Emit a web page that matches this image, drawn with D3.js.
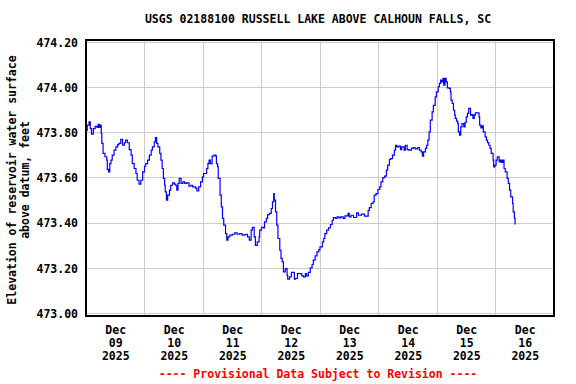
<!DOCTYPE html>
<html>
<head>
<meta charset="utf-8">
<script src="https://cdn.jsdelivr.net/npm/d3@7"></script>
<style>
  body { margin: 0; background: #fff; }
  text { font-family: "DejaVu Sans Mono", monospace; font-weight: bold; }
</style>
</head>
<body>
<svg id="chart" width="576" height="384"></svg>
<script>
var title = "USGS 02188100 RUSSELL LAKE ABOVE CALHOUN FALLS, SC";
var yTitle = ["Elevation of reservoir water surface", "above datum, feet"];
var footer = "---- Provisional Data Subject to Revision ----";

// hours after 2025-12-09 00:00
var hours = [0,0.5,1.25,1.75,2.25,3,3.75,4.5,5,5.5,6,6.25,6.5,7,7.75,8.5,8.75,9.25,9.75,10.25,
  10.75,11.5,12.25,13,13.5,14.25,15,15.75,16.25,17,17.75,18.5,19,19.75,20.5,21,21.75,22.5,23.25,24,
  24.5,25.25,26,26.75,27.25,28,28.5,29,29.5,30.25,30.75,31.25,31.75,32.25,32.5,33,33.5,34.25,34.75,35.5,
  36.25,36.75,37.25,37.75,38.25,39,39.75,40.5,41.25,42.25,43,43.75,45,45.5,46.25,47,47.75,48.25,48.75,49.5,
  50,50.5,51,51.75,52.5,53.25,53.5,54,54.25,55,55.5,56,56.5,57.25,57.75,58.25,59,60,61,62,
  63,64,65.25,66.25,67,67.75,68.25,69,69.5,70.25,71,71.25,72,72.75,73.25,74,74.5,75.25,76,76.5,
  77,77.25,77.75,78.25,78.75,79.5,80,80.5,81,81.75,82.5,82.75,83.5,84.25,85,85.5,86,86.75,87.5,88.5,
  89.25,90,90.5,91.25,92,92.75,93.25,94,94.75,95.5,96,97,97.5,98,98.75,99.5,100.25,101,101.5,102.25,
  103,103.75,104.5,105.5,106.25,107.5,108,108.75,109.75,111,111.75,113,114.25,115.25,115.75,116.25,117,117.75,118.25,119,
  119.75,120.5,121,121.75,122.5,123.25,123.75,124.5,125,125.75,126.5,127,127.5,128.25,129,129.5,130.5,131,131.75,132.5,
  133.5,134.25,135,136,136.75,137.5,138,138.5,139.25,139.75,140.25,140.75,141.25,142,142.5,143.25,143.75,144.5,145,145.5,
  146,146.5,146.75,147.25,147.75,148.25,149,149.5,149.75,150.25,150.75,151.25,151.5,152,152.5,152.75,153.25,153.75,154.25,155,
  155.5,156,156.5,157,157.75,158.25,158.75,159.25,159.75,160.5,161.25,161.5,162,162.5,163,163.75,164.25,164.75,165.25,165.75,
  166.25,167,167.25,167.75,168.25,168.75,169.5,170,170.5,171,171.5,172,172.75,173.25,173.75,174.25,175,175.25,175.75,176];

var elevation = [473.811,473.834,473.849,473.819,473.794,473.819,473.829,473.824,473.838,473.824,473.834,473.797,473.753,473.709,473.694,473.679,473.638,473.627,473.664,473.679,
  473.701,473.723,473.738,473.748,473.753,473.771,473.745,473.756,473.768,473.756,473.726,473.701,473.664,473.642,473.620,473.590,473.573,473.590,473.627,473.652,
  473.664,473.679,473.701,473.723,473.738,473.760,473.779,473.753,473.738,473.709,473.679,473.642,473.598,473.568,473.539,473.502,473.524,473.546,473.568,473.578,
  473.573,473.568,473.546,473.576,473.598,473.576,473.583,473.576,473.578,473.564,473.568,473.561,473.554,473.543,473.561,473.583,473.605,473.620,473.620,473.642,
  473.664,473.679,473.664,473.697,473.701,473.697,473.664,473.649,473.598,473.524,473.472,473.421,473.391,473.354,473.325,473.339,473.347,473.351,473.357,473.351,
  473.354,473.347,473.351,473.339,473.325,473.369,473.381,473.339,473.302,473.317,473.339,473.369,473.381,473.379,473.406,473.421,473.438,473.443,473.465,473.494,
  473.531,473.502,473.450,473.391,473.332,473.280,473.244,473.229,473.184,473.199,473.170,473.152,473.162,473.182,473.182,473.152,473.155,473.177,473.177,473.167,
  473.162,473.177,473.167,473.182,473.202,473.217,473.236,473.255,473.273,473.283,473.295,473.317,473.332,473.354,473.369,473.379,473.394,473.413,473.425,473.421,
  473.428,473.423,473.428,473.421,473.432,473.443,473.428,473.435,473.425,473.446,473.435,473.440,473.431,473.431,473.457,473.469,473.487,473.494,473.524,473.531,
  473.549,473.561,473.583,473.602,473.608,473.635,473.657,473.682,473.686,473.701,473.723,473.745,473.738,473.741,473.726,473.738,473.723,473.745,473.726,473.723,
  473.731,473.735,473.729,473.735,473.723,473.716,473.697,473.716,473.731,473.745,473.768,473.804,473.856,473.893,473.922,473.959,473.981,474.004,474.019,474.033,
  474.026,474.041,474.011,474.041,474.026,473.999,473.997,473.981,473.945,473.930,473.900,473.878,473.864,473.852,473.841,473.804,473.790,473.826,473.841,473.826,
  473.846,473.871,473.886,473.908,473.878,473.881,473.864,473.878,473.888,473.888,473.871,473.834,473.822,473.831,473.804,473.782,473.768,473.757,473.745,473.731,
  473.709,473.679,473.649,473.657,473.679,473.694,473.671,473.679,473.669,473.679,473.642,473.627,473.598,473.576,473.546,473.516,473.487,473.450,473.423,473.394];

var yTicks = [473.0, 473.2, 473.4, 473.6, 473.8, 474.0, 474.2];
var dayLabels = ["09", "10", "11", "12", "13", "14", "15", "16"];

var start = new Date(2025, 11, 9);
var end = new Date(2025, 11, 17);
var data = hours.map(function(h, i) {
  return { t: new Date(start.getTime() + h * 3600e3), v: elevation[i] };
});

var svg = d3.select("#chart");

var x = d3.scaleTime().domain([start, end]).range([86, 554]);
var y = d3.scaleLinear().domain([473.0, 474.2]).range([313.5, 42.5]);

// grid
var grid = svg.append("g").attr("stroke", "#cccccc").attr("stroke-width", 1)
  .attr("shape-rendering", "crispEdges");
grid.selectAll("line.h").data(yTicks).enter().append("line")
  .attr("x1", 86).attr("x2", 554)
  .attr("y1", function(d) { return Math.floor(y(d)) + 0.5; })
  .attr("y2", function(d) { return Math.floor(y(d)) + 0.5; });
grid.selectAll("line.v").data(d3.timeDay.range(new Date(2025, 11, 10), end)).enter().append("line")
  .attr("y1", 40).attr("y2", 316)
  .attr("x1", function(d) { return Math.floor(x(d)) + 0.5; })
  .attr("x2", function(d) { return Math.floor(x(d)) + 0.5; });

// data line
var line = d3.line().curve(d3.curveStepAfter)
  .x(function(d) { return x(d.t); })
  .y(function(d) { return y(d.v); });
svg.append("path").datum(data)
  .attr("fill", "none").attr("stroke", "#0000ff").attr("stroke-width", 1.2)
  .attr("d", line);

// frame
svg.append("rect").attr("x", 86).attr("y", 40).attr("width", 468).attr("height", 276)
  .attr("fill", "none").attr("stroke", "#000").attr("stroke-width", 2);

// y axis labels
var yAxis = d3.axisLeft(y).tickValues(yTicks).tickSize(0).tickPadding(0)
  .tickFormat(d3.format(".2f"));
var gy = svg.append("g").attr("transform", "translate(78,0)").call(yAxis);
gy.select(".domain").remove();
gy.selectAll("text").attr("font-size", "11.5px").attr("fill", "#000")
  .style("font-family", "'DejaVu Sans Mono', monospace").style("font-weight", "bold");

// x axis labels at noon of each day
var noons = dayLabels.map(function(d, i) { return new Date(2025, 11, 9 + i, 12); });
var xAxis = d3.axisBottom(x).tickValues(noons).tickSize(0).tickFormat("");
var gx = svg.append("g").attr("transform", "translate(0,316)").call(xAxis);
gx.select(".domain").remove();
gx.selectAll(".tick").each(function(d, i) {
  var t = d3.select(this).append("text").attr("fill", "#000").attr("font-size", "11.5px")
    .attr("text-anchor", "middle");
  ["Dec", dayLabels[i], "2025"].forEach(function(s, k) {
    t.append("tspan").attr("x", 0).attr("y", 18 + k * 13).text(s);
  });
});

// title
svg.append("text").attr("x", 318).attr("y", 23).attr("text-anchor", "middle")
  .attr("font-size", "11.5px").text(title);

// y title
yTitle.forEach(function(s, k) {
  svg.append("text")
    .attr("transform", "translate(" + (16 + k * 13) + ",180) rotate(-90)")
    .attr("text-anchor", "middle").attr("font-size", "11.5px").text(s);
});

// footer
svg.append("text").attr("x", 318).attr("y", 378).attr("text-anchor", "middle")
  .attr("font-size", "11.5px").attr("fill", "#ff0000").text(footer);
</script>
</body>
</html>
